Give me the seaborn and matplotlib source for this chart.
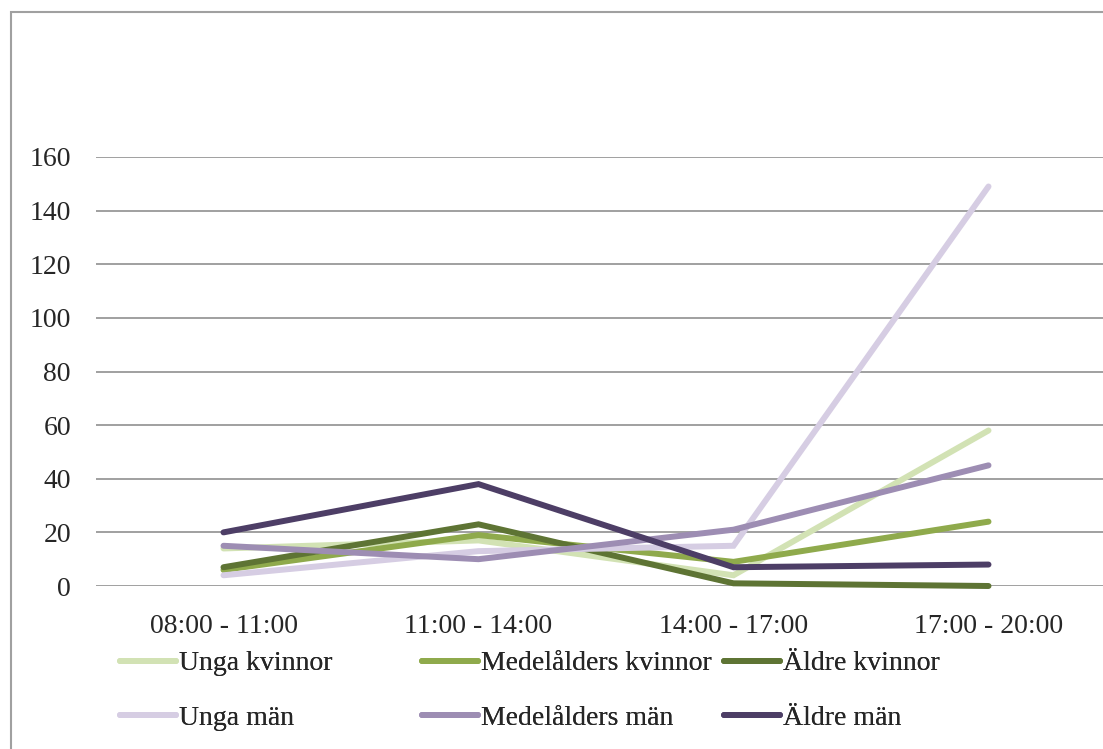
import numpy as np
import pandas as pd
import matplotlib.pyplot as plt
import seaborn as sns
from matplotlib.patches import Rectangle
from matplotlib.lines import Line2D

# data
periods = ['08:00 - 11:00', '11:00 - 14:00', '14:00 - 17:00', '17:00 - 20:00']
unga_kvinnor = [14, 17, 4, 58]
medel_kvinnor = [6, 19, 9, 24]
aldre_kvinnor = [7, 23, 1, 0]
unga_man = [4, 13, 15, 149]
medel_man = [15, 10, 21, 45]
aldre_man = [20, 38, 7, 8]

series = {
    'Unga kvinnor': unga_kvinnor,
    'Medelålders kvinnor': medel_kvinnor,
    'Äldre kvinnor': aldre_kvinnor,
    'Unga män': unga_man,
    'Medelålders män': medel_man,
    'Äldre män': aldre_man,
}
palette = {
    'Unga kvinnor': '#D2E2B4',
    'Medelålders kvinnor': '#8FAA4C',
    'Äldre kvinnor': '#5E7434',
    'Unga män': '#D6CDE3',
    'Medelålders män': '#9D8DB3',
    'Äldre män': '#4D3E66',
}

df = pd.DataFrame([
    {'period': p, 'group': name, 'value': v}
    for name, vals in series.items()
    for p, v in zip(periods, vals)
])
df['x'] = df['period'].map({p: i for i, p in enumerate(periods)})

sns.set_style('white')
plt.rcParams['font.family'] = ['Liberation Serif', 'DejaVu Serif']

W, H = 1103, 749
fs = 20
fig = plt.figure(figsize=(W / 100, H / 100), dpi=100)
ax = fig.add_axes([96 / W, (H - 586) / H, (1116 - 96) / W, (586 - 157) / H])

sns.lineplot(data=df, x='x', y='value', hue='group', palette=palette,
             hue_order=list(series), sort=False, linewidth=4.3, legend=False, ax=ax)
for ln in ax.lines:
    ln.set_solid_capstyle('round')
    ln.set_solid_joinstyle('miter')
    ln.set_clip_on(False)

ax.set_xlim(-0.5, 3.5)
ax.set_ylim(0, 160)
ax.set_yticks(range(0, 161, 20))
ax.set_xticks(range(len(periods)))
ax.set_xticklabels(periods)
ax.grid(axis='y', color='#A0A0A0', linewidth=1.4)
ax.grid(axis='x', visible=False)
ax.set_axisbelow(True)
for s in ax.spines.values():
    s.set_visible(False)
ax.set_xlabel('')
ax.set_ylabel('')
ax.tick_params(axis='y', length=0, pad=18, labelsize=fs)
ax.tick_params(axis='x', length=0, pad=20, labelsize=fs)

# legend in three fixed-width columns, two rows
names = list(series)
col_x = [120, 422, 724]
for c in range(3):
    hs = [Line2D([], [], color=palette[n], linewidth=4.3, solid_capstyle='round')
          for n in (names[c], names[c + 3])]
    leg = fig.legend(hs, [names[c], names[c + 3]], loc='upper left',
                     bbox_to_anchor=(col_x[c] / W, 1 - 651 / H), frameon=False,
                     fontsize=fs, handlelength=2.0, handletextpad=0.12,
                     labelspacing=1.05, borderpad=0, borderaxespad=0)
    fig.add_artist(leg)

# outer chart frame (cropped on the right and bottom)
fig.add_artist(Rectangle((11 / W, -0.1), 1.2, 1.1 - 12 / H, transform=fig.transFigure,
                         fill=False, edgecolor='#A0A0A0', linewidth=1.5))

fig.savefig('out.png', dpi=100)
